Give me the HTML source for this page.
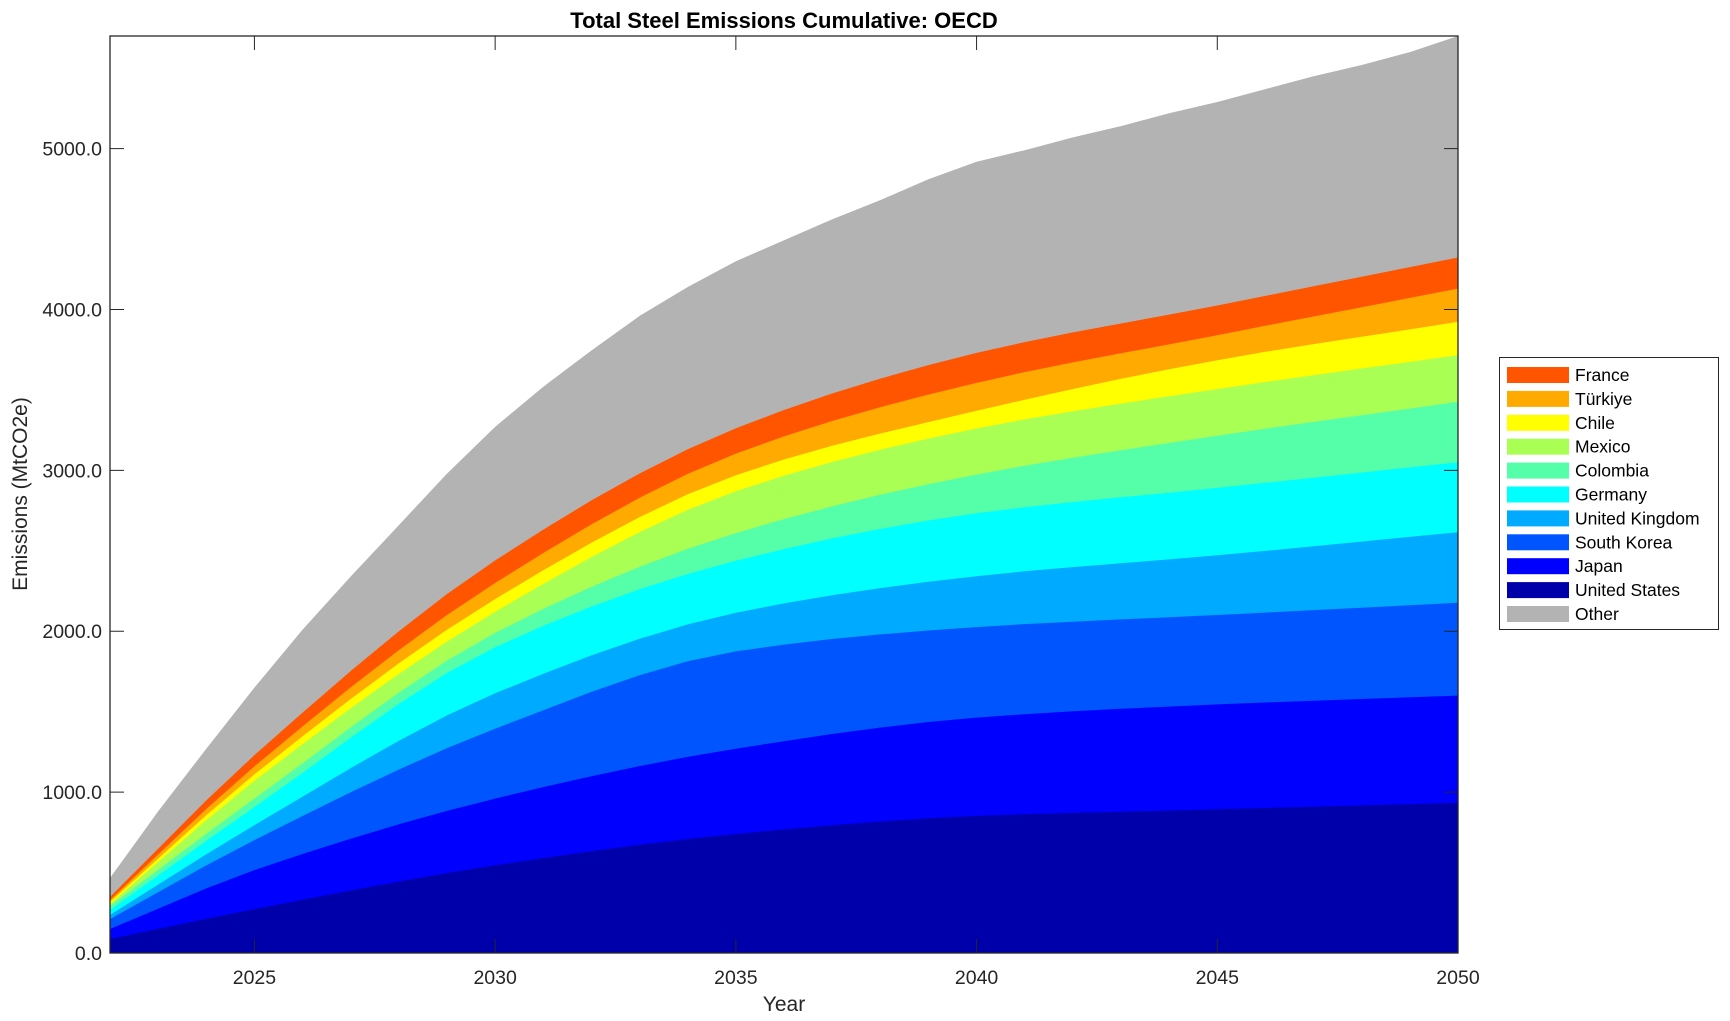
<!DOCTYPE html>
<html><head><meta charset="utf-8"><style>
body{margin:0;background:#fff;}
svg{display:block;font-family:"Liberation Sans",Arial,sans-serif;}
</style></head><body>
<svg id="s" width="1730" height="1021" xmlns="http://www.w3.org/2000/svg"></svg>
<script>
const L=110,R=1458,T=36,B=953,X0=2022,X1=2050,YM=5700;
const xs=y=>L+(y-X0)*(R-L)/(X1-X0), ys=v=>B-v*(B-T)/YM;
const keys=[2022,2025,2030,2035,2040,2045,2050];
const tops={
US:[87,273,545,740,852,893,934],
JP:[149,515,960,1270,1463,1545,1600],
SK:[211,702,1394,1875,2026,2101,2177],
UK:[236,795,1614,2115,2342,2472,2615],
DE:[267,907,1900,2438,2733,2891,3050],
CO:[292,960,1990,2610,2974,3215,3426],
MX:[304,1070,2120,2870,3260,3505,3716],
CL:[317,1110,2200,2970,3370,3685,3923],
TR:[329,1160,2300,3104,3544,3840,4130],
FR:[348,1230,2440,3262,3730,4025,4323]};
const other=[466,880,1270,1650,2010,2340,2660,2980,3270,3520,3745,3960,4140,4300,4430,4560,4680,4810,4918,4990,5070,5140,5220,5290,5370,5450,5520,5600,5700];
function mono(xk,yk){const n=xk.length,d=[],m=[];for(let i=0;i<n-1;i++)d.push((yk[i+1]-yk[i])/(xk[i+1]-xk[i]));
m[0]=d[0];m[n-1]=d[n-2];for(let i=1;i<n-1;i++)m[i]=d[i-1]*d[i]<=0?0:2/(1/d[i-1]+1/d[i]);
const out=[];for(let yr=X0;yr<=X1;yr++){let i=0;while(i<n-2&&yr>xk[i+1])i++;const h=xk[i+1]-xk[i],t=(yr-xk[i])/h;
const h00=2*t*t*t-3*t*t+1,h10=t*t*t-2*t*t+t,h01=-2*t*t*t+3*t*t,h11=t*t*t-t*t;
out.push(h00*yk[i]+h10*h*m[i]+h01*yk[i+1]+h11*h*m[i+1]);}return out;}
const order=[['US','#0000aa'],['JP','#0000ff'],['SK','#0055ff'],['UK','#00aaff'],['DE','#00ffff'],['CO','#55ffaa'],['MX','#aaff55'],['CL','#ffff00'],['TR','#ffaa00'],['FR','#ff5500']];
let series=order.map(([k,c])=>[mono(keys,tops[k]),c]);series.push([other,'#b3b3b3']);
let h='';
for(let j=series.length-1;j>=0;j--){const v=series[j][0];let p=`${L},${B} `;v.forEach((q,i)=>p+=`${xs(X0+i).toFixed(1)},${ys(q).toFixed(1)} `);p+=`${R},${B}`;
h+=`<polygon points="${p}" fill="${series[j][1]}"/>`;}
h+=`<rect x="${L}" y="${T}" width="${R-L}" height="${B-T}" fill="none" stroke="#262626" stroke-width="1.3"/>`;
for(let y=2025;y<=2050;y+=5){const x=xs(y);h+=`<line x1="${x}" y1="${B}" x2="${x}" y2="${B-14}" stroke="#262626"/><line x1="${x}" y1="${T}" x2="${x}" y2="${T+14}" stroke="#262626"/><text x="${x}" y="984" font-size="19.5" text-anchor="middle" fill="#262626">${y}</text>`;}
for(let v=0;v<=5000;v+=1000){const y=ys(v);h+=`<line x1="${L}" y1="${y}" x2="${L+14}" y2="${y}" stroke="#262626"/><line x1="${R}" y1="${y}" x2="${R-14}" y2="${y}" stroke="#262626"/><text x="102" y="${y+7}" font-size="19.5" text-anchor="end" fill="#262626">${v.toFixed(1)}</text>`;}
h+=`<text x="784" y="28" font-size="22" font-weight="bold" text-anchor="middle" fill="#000">Total Steel Emissions Cumulative: OECD</text>`;
h+=`<text x="784" y="1011" font-size="21" text-anchor="middle" fill="#262626">Year</text>`;
h+=`<text transform="translate(27,494) rotate(-90)" font-size="21" text-anchor="middle" fill="#262626">Emissions (MtCO2e)</text>`;
h+=`<rect x="1499.5" y="357.5" width="219" height="272" fill="#fff" stroke="#262626"/>`;
const leg=[['France','#ff5500'],['Türkiye','#ffaa00'],['Chile','#ffff00'],['Mexico','#aaff55'],['Colombia','#55ffaa'],['Germany','#00ffff'],['United Kingdom','#00aaff'],['South Korea','#0055ff'],['Japan','#0000ff'],['United States','#0000aa'],['Other','#b3b3b3']];
leg.forEach(([n,c],i)=>{const cy=375+i*23.9;h+=`<rect x="1507" y="${cy-8}" width="62" height="16" fill="${c}"/><text x="1575" y="${cy+6}" font-size="17.5" fill="#000">${n}</text>`;});
document.getElementById('s').innerHTML=h;
</script>
</body></html>
